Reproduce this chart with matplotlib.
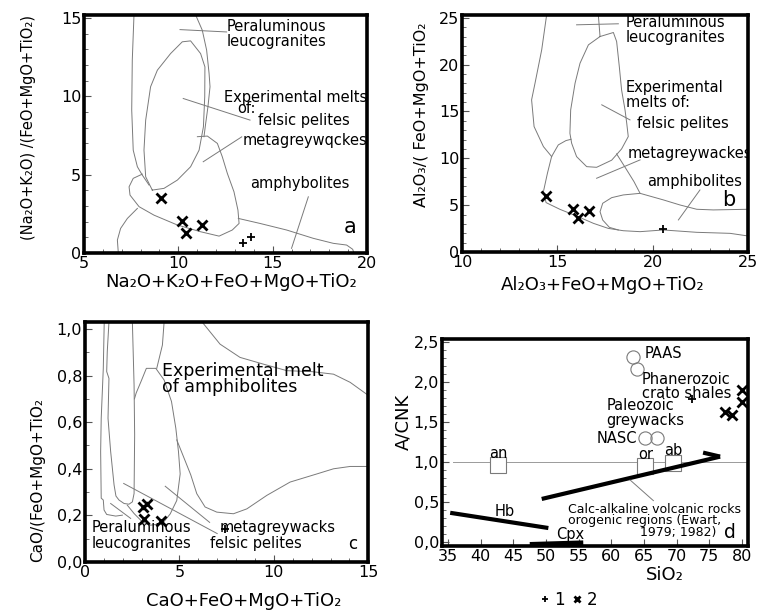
import matplotlib.pyplot as plt
from matplotlib.ticker import MultipleLocator, FuncFormatter

plt.rcParams['font.family'] = ['DejaVu Sans']

# ---- panel a : (Na2O+K2O)/(FeO+MgO+TiO2) vs Na2O+K2O+FeO+MgO+TiO2
a_leuco_left = [(7.65, 15.2), (7.56, 12.32), (7.53, 9.13), (7.61, 6.57), (7.83, 5.51), (8.09, 4.98), (8.45, 4.34)]
a_leuco_right = [(10.92, 15.2), (11.27, 14.23), (11.50, 12.96), (11.63, 11.47), (11.68, 10.62),
                 (11.57, 9.34), (11.45, 8.28), (11.36, 7.43)]
a_felsic = [(8.62, 4.02), (8.27, 4.87), (8.18, 6.57), (8.27, 8.49), (8.53, 10.62), (8.89, 11.68),
            (9.59, 12.74), (10.21, 13.49), (10.65, 13.55), (11.18, 12.74), (11.41, 11.89), (11.40, 9.98),
            (11.33, 8.06), (11.10, 6.57), (10.65, 5.51), (9.95, 4.66), (9.24, 4.13), (8.62, 4.02)]
a_metagw = [(11.01, 7.43), (11.54, 7.47), (12.07, 7.0), (12.33, 6.15), (12.60, 5.08), (12.95, 3.91),
            (13.16, 2.74), (13.22, 1.89), (12.86, 1.47), (12.16, 1.08), (11.18, 1.36), (9.95, 1.79),
            (8.71, 2.42), (7.92, 2.96), (7.44, 3.70), (7.39, 4.23), (7.61, 4.77), (8.09, 5.04)]
a_amph_left = [(6.82, 0.0), (6.77, 0.83), (6.94, 1.57), (7.30, 2.21), (7.83, 2.85)]
a_amph_top = [(13.18, 2.21), (14.33, 1.89), (15.74, 1.47), (17.15, 0.94), (18.21, 0.62),
              (18.92, 0.51), (19.24, 0.24), (19.31, 0.0)]
a_leaders = [[(10.09, 14.27), (12.56, 14.12)], [(10.26, 9.87), (13.80, 8.49)],
             [(11.32, 5.83), (13.36, 7.42)], [(16.89, 3.59), (16.0, 0.3)]]
a_s1_x = [13.44, 13.83]
a_s1_y = [0.62, 1.0]
a_s2_x = [9.08, 10.21, 10.39, 11.27]
a_s2_y = [3.49, 2.06, 1.26, 1.77]
a_labels = [(12.56, 14.44, 'Peraluminous'), (12.56, 13.49, 'leucogranites'),
            (12.42, 9.95, 'Experimental melts'), (13.12, 9.25, 'of:'), (14.24, 8.49, 'felsic pelites'),
            (13.41, 7.21, 'metagreywqckes'), (13.83, 4.45, 'amphybolites')]

# ---- panel b : Al2O3/(FeO+MgO+TiO2) vs Al2O3+FeO+MgO+TiO2
b_leuco_left = [(14.44, 25.32), (14.18, 21.58), (13.83, 18.02), (13.65, 16.24), (13.78, 13.39),
                (14.27, 11.25), (14.70, 10.19)]
b_leuco_right = [(17.15, 25.32), (17.24, 23.0)]
b_felsic = [(17.24, 23.0), (17.94, 23.43), (18.11, 22.47), (18.25, 19.80), (18.37, 17.30), (18.55, 15.17),
            (18.64, 13.74), (18.72, 12.32), (18.37, 11.0), (17.85, 9.8), (17.06, 9.04), (16.54, 9.11),
            (16.01, 10.18), (15.75, 11.61), (15.66, 12.67), (15.70, 15.17), (15.93, 18.02), (16.19, 20.15),
            (16.63, 22.11), (17.24, 23.0)]
b_metagw_top = [(14.70, 10.19), (15.05, 11.43), (15.45, 11.89), (15.72, 12.03)]
b_metagw_right = [(18.11, 10.47), (18.64, 8.76), (19.02, 7.51), (19.34, 6.26)]
b_lower = [(14.70, 10.19), (14.48, 8.4), (14.27, 6.44), (14.41, 5.27), (15.14, 4.55), (16.01, 3.84),
           (16.89, 3.06), (17.67, 2.52), (18.46, 2.27), (19.34, 2.17), (20.56, 2.35), (22.31, 2.10),
           (24.06, 1.99), (25.0, 1.71)]
b_amph = [(25.0, 4.56), (23.18, 4.49), (22.31, 4.56), (21.43, 5.02), (20.56, 5.56), (19.34, 6.26),
          (18.46, 6.09), (17.85, 5.8), (17.38, 5.2), (17.24, 4.3), (17.38, 3.41), (17.73, 2.63), (18.2, 2.35)]
b_leaders = [[(16.01, 24.25), (18.2, 24.36)], [(17.33, 15.71), (18.81, 14.10)],
             [(17.06, 7.87), (19.34, 9.83)], [(21.35, 3.42), (22.48, 6.62)]]
b_s1_x = [20.56]
b_s1_y = [2.42]
b_s2_x = [14.41, 15.80, 16.07, 16.68]
b_s2_y = [5.98, 4.56, 3.60, 4.42]
b_labels = [(18.60, 24.45, 'Peraluminous'), (18.60, 22.85, 'leucogranites'),
            (18.60, 17.6, 'Experimental'), (18.60, 15.95, 'melts of:'), (19.20, 13.75, 'felsic pelites'),
            (18.67, 10.54, 'metagreywackes'), (19.72, 7.51, 'amphibolites')]

# ---- panel c : CaO/(FeO+MgO+TiO2) vs CaO+FeO+MgO+TiO2
c_outer = [(1.02, 1.03), (0.97, 0.831), (0.86, 0.617), (0.83, 0.474), (0.86, 0.274), (0.97, 0.266),
           (1.01, 0.223), (1.15, 0.204), (1.63, 0.197), (1.98, 0.201)]
c_narrow = [(1.27, 1.03), (1.18, 0.902), (1.15, 0.817), (1.27, 0.788), (1.22, 0.617), (1.36, 0.474),
            (1.54, 0.331), (1.64, 0.283), (1.80, 0.266), (2.07, 0.251), (2.33, 0.248), (2.51, 0.258),
            (2.60, 0.294), (2.63, 0.545), (2.60, 0.759), (2.51, 1.03)]
c_top_line = [(4.19, 1.03), (4.10, 0.931), (3.80, 0.831)]
c_felsic = [(2.62, 0.70), (2.71, 0.725), (2.98, 0.777), (3.25, 0.831), (3.75, 0.831), (4.19, 0.781),
            (4.58, 0.689), (4.81, 0.574), (4.95, 0.474), (5.04, 0.378), (4.86, 0.264), (4.51, 0.206),
            (4.10, 0.165), (3.48, 0.158), (3.04, 0.172), (2.60, 0.208), (2.24, 0.244)]
c_amph_u = [(4.86, 0.524), (5.25, 0.445), (5.60, 0.374), (5.92, 0.293), (6.36, 0.236), (6.98, 0.214),
            (7.86, 0.207), (8.57, 0.228), (9.63, 0.286), (10.86, 0.343), (12.28, 0.378), (13.16, 0.400),
            (14.04, 0.410), (15.0, 0.410)]
c_amph_top = [(6.20, 1.03), (7.15, 0.935), (8.21, 0.878), (9.45, 0.849), (10.69, 0.821), (12.01, 0.817),
              (13.16, 0.806), (14.04, 0.771), (15.0, 0.715)]
c_leaders = [[(1.36, 0.251), (2.42, 0.187)], [(2.05, 0.337), (7.0, 0.122)], [(4.25, 0.325), (6.6, 0.17)]]
c_s1_x = [7.40]
c_s1_y = [0.140]
c_s2_x = [3.27, 3.06, 3.13, 4.04]
c_s2_y = [0.248, 0.234, 0.183, 0.177]
c_labels = [(0.35, 0.150, 'Peraluminous'), (0.35, 0.078, 'leucogranites'),
            (7.15, 0.150, 'metagreywacks'), (6.6, 0.078, 'felsic pelites')]

# ---- panel d : A/CNK vs SiO2
d_circles_x = [63.29, 63.90, 65.18, 67.07]
d_circles_y = [2.317, 2.158, 1.304, 1.304]
d_squares_x = [42.69, 65.23, 69.53]
d_squares_y = [0.962, 0.946, 0.992]
d_square_names = ['an', 'or', 'ab']
d_trend_x = [49.33, 76.68]
d_trend_y = [0.538, 1.067]
d_barb_x = [74.07, 76.68]
d_barb_y = [1.117, 1.067]
d_hb_x = [35.3, 50.35]
d_hb_y = [0.365, 0.175]
d_cpx_x = [47.5, 55.7]
d_cpx_y = [-0.03, -0.01]
d_s1_x = [72.44]
d_s1_y = [1.785]
d_s2_x = [80.0, 80.0, 77.45, 78.47]
d_s2_y = [1.90, 1.754, 1.629, 1.588]
d_labels = [(65.18, 2.35, 'PAAS', 'left'), (64.67, 2.033, 'Phanerozoic', 'left'),
            (64.67, 1.858, 'crato shales', 'left'), (59.30, 1.70, 'Paleozoic', 'left'),
            (59.30, 1.517, 'greywacks', 'left'), (64.0, 1.296, 'NASC', 'right')]

GREY = '#7a7a7a'
FS = 10.5


def outline(ax, pts, **kw):
    xs = [p[0] for p in pts]
    ys = [p[1] for p in pts]
    ax.plot(xs, ys, color=kw.get('color', GREY), lw=kw.get('lw', 0.7))


def frame(ax, xlim, ylim, xmaj, xmin, ymaj, ymin, comma=False):
    ax.set_xlim(*xlim)
    ax.set_ylim(*ylim)
    ax.xaxis.set_major_locator(MultipleLocator(xmaj))
    ax.yaxis.set_major_locator(MultipleLocator(ymaj))
    if xmin:
        ax.xaxis.set_minor_locator(MultipleLocator(xmin))
    if ymin:
        ax.yaxis.set_minor_locator(MultipleLocator(ymin))
    if comma:
        ax.yaxis.set_major_formatter(FuncFormatter(lambda v, p: f'{v:.1f}'.replace('.', ',')))
    for s in ax.spines.values():
        s.set_linewidth(2.6)
    ax.tick_params(which='both', direction='in', labelsize=11.5, color='#555555', pad=2)
    ax.tick_params(which='major', length=5, width=0.8)
    ax.tick_params(which='minor', length=3, width=0.6)


def points(ax, x1, y1, x2, y2):
    p1, = ax.plot(x1, y1, ls='none', marker='+', ms=6, mew=1.3, color='black')
    p2, = ax.plot(x2, y2, ls='none', marker='x', ms=6.5, mew=2, color='black')
    return p1, p2


fig = plt.figure(figsize=(7.6, 6.14), dpi=100)
ax_a = fig.add_axes([0.1105, 0.5879, 0.3724, 0.3876])
ax_b = fig.add_axes([0.6079, 0.5896, 0.3763, 0.3860])
ax_c = fig.add_axes([0.1118, 0.0847, 0.3728, 0.3909])
ax_d = fig.add_axes([0.5812, 0.1103, 0.4034, 0.3381])

# panel a
frame(ax_a, (5, 20), (0, 15.2), 5, 1, 5, 1)
for pts in [a_leuco_left, a_leuco_right, a_felsic, a_metagw, a_amph_left, a_amph_top] + a_leaders:
    outline(ax_a, pts)
points(ax_a, a_s1_x, a_s1_y, a_s2_x, a_s2_y)
for x, y, t in a_labels:
    ax_a.text(x, y, t, fontsize=FS, va='center')
ax_a.text(19.13, 1.68, 'a', fontsize=15, ha='center', va='center')

# panel b
frame(ax_b, (10, 25), (0, 25.3), 5, 1, 5, 1)
for pts in [b_leuco_left, b_leuco_right, b_felsic, b_metagw_top, b_metagw_right, b_lower, b_amph] + b_leaders:
    outline(ax_b, pts)
points(ax_b, b_s1_x, b_s1_y, b_s2_x, b_s2_y)
for x, y, t in b_labels:
    ax_b.text(x, y, t, fontsize=FS, va='center', clip_on=True)
ax_b.text(23.97, 5.56, 'b', fontsize=15, ha='center', va='center')

# panel c
frame(ax_c, (0, 15), (0, 1.03), 5, 1, 0.2, 0.1, comma=True)
for pts in [c_outer, c_narrow, c_top_line, c_felsic, c_amph_u, c_amph_top] + c_leaders:
    outline(ax_c, pts)
points(ax_c, c_s1_x, c_s1_y, c_s2_x, c_s2_y)
for x, y, t in c_labels:
    ax_c.text(x, y, t, fontsize=FS, va='center')
ax_c.text(4.06, 0.821, 'Experimental melt', fontsize=12.5, va='center')
ax_c.text(4.06, 0.749, 'of amphibolites', fontsize=12.5, va='center')
ax_c.text(14.2, 0.078, 'c', fontsize=12, ha='center', va='center')

# panel d
frame(ax_d, (34, 81), (-0.053, 2.54), 5, None, 0.5, 0.1, comma=True)
ax_d.plot([35.8, 81], [1.0, 1.0], color='#9a9a9a', lw=0.7)
ax_d.plot(d_circles_x, d_circles_y, ls='none', marker='o', ms=9.5, mfc='none', mec=GREY, mew=0.8)
ax_d.plot(d_squares_x, d_squares_y, ls='none', marker='s', ms=11.5, mfc='white', mec=GREY, mew=0.8)
for x, y, t in zip(d_squares_x, d_squares_y, d_square_names):
    ax_d.text(x, y + 0.15, t, fontsize=FS, ha='center', va='center')
ax_d.plot(d_trend_x, d_trend_y, color='black', lw=3, solid_capstyle='butt')
ax_d.plot(d_barb_x, d_barb_y, color='black', lw=3, solid_capstyle='butt')
ax_d.plot(d_hb_x, d_hb_y, color='black', lw=3, solid_capstyle='butt')
ax_d.plot(d_cpx_x, d_cpx_y, color='black', lw=3.5, solid_capstyle='butt')
ax_d.plot([62.88, 66.45], [0.775, 0.517], color=GREY, lw=0.7)
p1, p2 = points(ax_d, d_s1_x, d_s1_y, d_s2_x, d_s2_y)
for x, y, t, ha in d_labels:
    ax_d.text(x, y, t, fontsize=FS, ha=ha, va='center')
ax_d.text(43.6, 0.38, 'Hb', fontsize=FS, ha='center', va='center')
ax_d.text(53.7, 0.09, 'Cpx', fontsize=FS, ha='center', va='center')
ax_d.text(53.42, 0.4125, 'Calc-alkaline volcanic rocks', fontsize=9, va='center')
ax_d.text(53.42, 0.267, 'orogenic regions (Ewart,', fontsize=9, va='center')
ax_d.text(76.17, 0.121, '1979; 1982)', fontsize=9, ha='right', va='center')
ax_d.text(78.2, 0.121, 'd', fontsize=13.5, ha='center', va='center')

# axis titles
fig.text(0.037, 0.793, '(Na₂O+K₂O) /(FeO+MgO+TiO₂)', rotation=90, fontsize=10.5, ha='center', va='center')
fig.text(0.304, 0.540, 'Na₂O+K₂O+FeO+MgO+TiO₂', fontsize=13, ha='center', va='center')
fig.text(0.555, 0.813, 'Al₂O₃/( FeO+MgO+TiO₂', rotation=90, fontsize=11.5, ha='center', va='center')
fig.text(0.793, 0.536, 'Al₂O₃+FeO+MgO+TiO₂', fontsize=13, ha='center', va='center')
fig.text(0.049, 0.218, 'CaO/(FeO+MgO+TiO₂', rotation=90, fontsize=11, ha='center', va='center')
fig.text(0.320, 0.021, 'CaO+FeO+MgO+TiO₂', fontsize=13, ha='center', va='center')
fig.text(0.531, 0.313, 'A/CNK', rotation=90, fontsize=13, ha='center', va='center')
fig.text(0.875, 0.064, 'SiO₂', fontsize=13, ha='center', va='center')

fig.legend([p1, p2], ['1', '2'], loc='center', bbox_to_anchor=(0.748, 0.023), ncol=2, frameon=False,
           fontsize=12, handlelength=0.6, handletextpad=0.3, columnspacing=0.4, markerscale=0.75)

fig.savefig('out.png', dpi=100)
